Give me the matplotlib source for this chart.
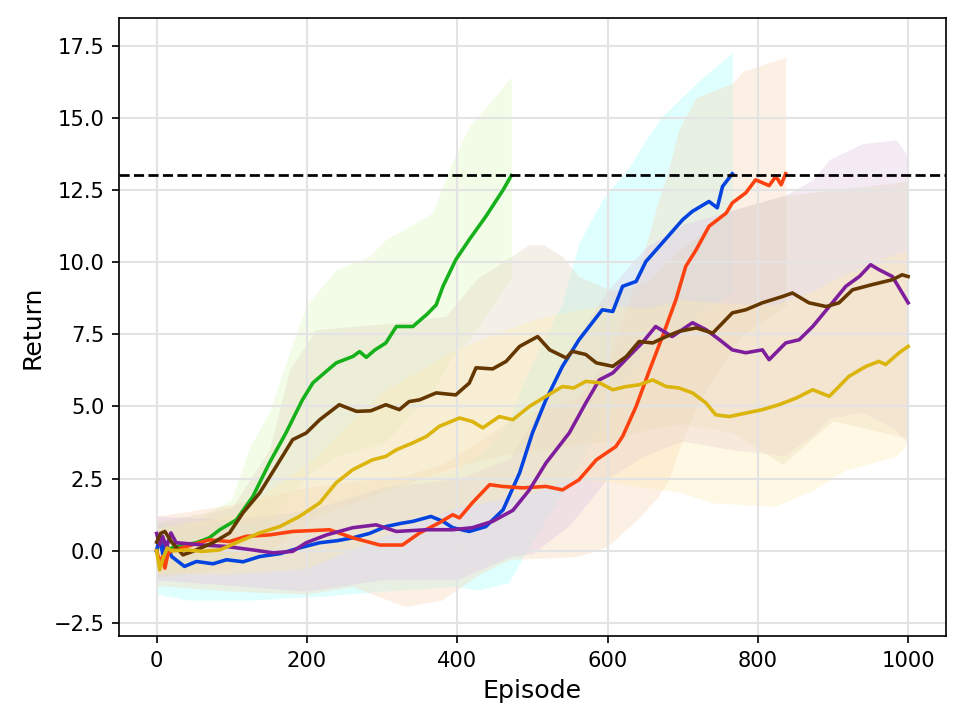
import numpy as np
import matplotlib
matplotlib.use("Agg")
import matplotlib.pyplot as plt

# mean return curves
green_ep = [0, 5, 10, 20, 35, 53, 70, 84, 106, 128, 150, 172, 194, 208, 225, 239, 261, 270, 279, 290,
            305, 319, 341, 360, 372, 381, 398, 416, 438, 461, 472]
green_val = [0.0, 0.4, -0.2, 0.1, 0.2, 0.28, 0.45, 0.73, 1.07, 1.88, 3.04, 4.08, 5.23, 5.82, 6.2, 6.51,
             6.73, 6.9, 6.7, 6.95, 7.2, 7.77, 7.77, 8.2, 8.52, 9.16, 10.08, 10.78, 11.58, 12.5, 13.0]

blue_ep = [0, 4, 8, 12, 20, 30, 37, 53, 75, 93, 115, 137, 164, 190, 217, 240, 261, 283, 305, 325, 341,
           365, 381, 394, 416, 438, 461, 483, 500, 518, 540, 562, 593, 607, 620, 638, 651, 673, 700,
           713, 735, 746, 753, 766]
blue_val = [0.0, 0.5, -0.1, 0.3, -0.2, -0.4, -0.54, -0.37, -0.45, -0.31, -0.38, -0.2, -0.1, 0.1, 0.28,
            0.35, 0.45, 0.6, 0.84, 0.95, 1.02, 1.19, 1.02, 0.8, 0.67, 0.84, 1.42, 2.7, 4.08, 5.23, 6.39,
            7.31, 8.35, 8.29, 9.16, 9.33, 10.02, 10.67, 11.47, 11.76, 12.1, 11.88, 12.62, 13.06]

red_ep = [0, 4, 8, 11, 15, 20, 40, 70, 97, 119, 150, 181, 230, 261, 297, 327, 350, 376, 394, 403, 420,
          443, 460, 487, 518, 540, 562, 585, 611, 620, 638, 656, 673, 691, 704, 718, 735, 758, 766, 784,
          797, 815, 824, 831, 837]
red_val = [0.0, -0.4, -0.2, -0.6, -0.1, 0.0, 0.15, 0.38, 0.32, 0.5, 0.55, 0.67, 0.73, 0.45, 0.2, 0.2,
           0.62, 0.97, 1.25, 1.14, 1.66, 2.29, 2.23, 2.18, 2.23, 2.11, 2.46, 3.15, 3.61, 3.96, 5.0, 6.27,
           7.42, 8.7, 9.85, 10.43, 11.24, 11.7, 12.05, 12.4, 12.85, 12.65, 12.97, 12.68, 13.06]

purple_ep = [0, 4, 8, 13, 19, 26, 40, 61, 93, 128, 155, 181, 199, 226, 261, 292, 319, 359, 394, 420,
             447, 474, 496, 518, 549, 571, 589, 607, 633, 646, 664, 686, 713, 731, 749, 766, 784, 806,
             815, 837, 855, 873, 895, 917, 935, 950, 961, 979, 1000]
purple_val = [0.6, 0.2, 0.5, 0.1, 0.62, 0.28, 0.25, 0.2, 0.15, 0.03, -0.07, -0.02, 0.28, 0.55, 0.8,
              0.9, 0.67, 0.73, 0.73, 0.8, 1.02, 1.4, 2.11, 3.04, 4.08, 5.12, 5.92, 6.16, 6.86, 7.2,
              7.77, 7.42, 7.9, 7.66, 7.31, 6.96, 6.86, 6.96, 6.62, 7.2, 7.31, 7.77, 8.46, 9.16, 9.5,
              9.91, 9.74, 9.5, 8.59]

brown_ep = [0, 5, 11, 20, 35, 48, 75, 97, 115, 137, 159, 181, 199, 217, 243, 266, 285, 305, 323, 336,
            350, 372, 398, 416, 425, 447, 465, 483, 507, 523, 545, 553, 571, 585, 607, 625, 642, 660,
            678, 695, 718, 740, 766, 784, 806, 833, 846, 868, 891, 908, 926, 952, 979, 992, 1000]
brown_val = [0.3, 0.6, 0.67, 0.3, -0.14, -0.02, 0.28, 0.62, 1.32, 2.0, 2.92, 3.85, 4.08, 4.54, 5.06,
             4.83, 4.85, 5.06, 4.89, 5.17, 5.23, 5.47, 5.4, 5.81, 6.34, 6.3, 6.56, 7.08, 7.42, 6.96,
             6.68, 6.91, 6.8, 6.51, 6.39, 6.73, 7.25, 7.2, 7.42, 7.6, 7.72, 7.54, 8.24, 8.35, 8.59,
             8.81, 8.93, 8.59, 8.46, 8.59, 9.04, 9.22, 9.39, 9.56, 9.5]

yellow_ep = [0, 4, 8, 14, 20, 40, 61, 84, 106, 137, 164, 190, 217, 239, 261, 287, 305, 319, 341, 359,
             376, 403, 420, 434, 456, 474, 496, 518, 540, 555, 571, 589, 607, 625, 642, 660, 678, 695,
             713, 731, 744, 762, 784, 806, 828, 851, 873, 895, 908, 921, 944, 961, 970, 988, 1000]
yellow_val = [0.0, -0.66, -0.3, 0.1, 0.0, 0.03, -0.02, 0.03, 0.28, 0.62, 0.84, 1.19, 1.66, 2.36, 2.81,
              3.15, 3.27, 3.5, 3.74, 3.96, 4.31, 4.6, 4.48, 4.26, 4.65, 4.54, 5.0, 5.35, 5.69, 5.64,
              5.87, 5.82, 5.58, 5.69, 5.75, 5.92, 5.69, 5.64, 5.47, 5.12, 4.71, 4.65, 4.77, 4.89, 5.06,
              5.29, 5.58, 5.35, 5.69, 6.04, 6.39, 6.56, 6.45, 6.86, 7.08]

# shaded spread around each curve
green_band_ep = [0, 50, 100, 124, 150, 164, 199, 239, 283, 305, 367, 394, 416, 472]
green_hi = [0.8, 1.0, 1.8, 3.6, 4.8, 5.9, 8.5, 9.74, 10.2, 10.78, 11.7, 13.5, 14.7, 16.4]
green_lo = [-0.8, -0.7, -0.3, 0.3, 0.9, 1.5, 2.6, 3.3, 3.6, 3.8, 5.5, 6.8, 7.3, 9.5]

blue_band_ep = [0, 40, 128, 217, 300, 394, 430, 469, 483, 500, 540, 562, 593, 629, 651, 673, 718, 766]
blue_hi = [1.0, 0.9, 1.0, 1.5, 2.2, 2.8, 3.3, 4.5, 5.5, 6.5, 8.6, 10.67, 12.16, 13.3, 14.24, 15.05,
           16.2, 17.25]
blue_lo = [-1.5, -1.7, -1.7, -1.58, -1.4, -1.24, -1.35, -1.1, -0.42, 0.3, 2.0, 3.0, 4.3, 6.0, 6.8,
           7.3, 8.0, 9.0]

red_band_ep = [0, 100, 200, 261, 330, 380, 430, 470, 520, 560, 600, 640, 665, 680, 695, 718, 766,
               780, 837]
red_hi = [1.2, 1.6, 2.2, 2.4, 2.6, 3.0, 3.8, 4.5, 5.0, 5.3, 6.6, 9.5, 11.9, 13.1, 14.6, 15.7, 16.2,
          16.6, 17.1]
red_lo = [-1.2, -1.4, -1.5, -1.24, -1.93, -1.7, -0.8, -0.3, -0.25, -0.2, 0.15, 1.1, 1.8, 2.4, 3.5,
          5.0, 7.0, 7.5, 8.5]

purple_band_ep = [0, 100, 200, 300, 400, 470, 500, 550, 600, 650, 700, 766, 835, 873, 895, 939, 984,
                  1000]
purple_hi = [1.2, 1.1, 1.4, 2.2, 2.5, 3.2, 4.5, 7.0, 9.0, 10.5, 11.3, 11.8, 12.3, 12.85, 13.55, 14.1,
             14.24, 13.66]
purple_lo = [-1.0, -1.2, -1.4, -1.0, -1.0, -0.2, -0.1, 0.9, 2.5, 3.3, 3.8, 3.5, 3.3, 4.0, 4.6, 4.8,
             4.2, 3.7]

brown_band_ep = [0, 100, 150, 177, 212, 319, 385, 425, 478, 495, 515, 540, 562, 607, 651, 700, 766,
                 833, 900, 1000]
brown_hi = [1.0, 1.5, 3.5, 6.27, 7.66, 7.9, 8.12, 9.39, 10.3, 10.6, 10.6, 10.2, 9.5, 9.0, 9.3, 10.5,
            11.8, 12.3, 12.5, 12.8]
brown_lo = [-0.9, -0.6, 0.0, 0.5, 1.2, 2.2, 2.8, 3.1, 3.4, 3.45, 3.5, 3.6, 3.7, 3.8, 4.2, 4.4, 4.1,
            3.0, 4.5, 3.9]

yellow_band_ep = [0, 100, 200, 300, 400, 500, 550, 600, 650, 700, 740, 822, 873, 917, 984, 1000]
yellow_hi = [0.8, 1.2, 3.0, 5.5, 7.0, 8.0, 8.3, 8.5, 8.4, 8.7, 8.6, 8.5, 9.0, 9.6, 10.3, 10.4]
yellow_lo = [-0.8, -0.8, -0.6, 0.5, 1.5, 2.0, 2.5, 2.4, 2.2, 2.0, 1.66, 1.54, 2.1, 2.8, 3.27, 3.74]

target = 13.0

series = [
    (green_ep, green_val, green_band_ep, green_lo, green_hi, "#15b01a", "#daf9bd"),
    (blue_ep, blue_val, blue_band_ep, blue_lo, blue_hi, "#0343df", "#a6ffff"),
    (red_ep, red_val, red_band_ep, red_lo, red_hi, "#fe420f", "#f9d4b2"),
    (purple_ep, purple_val, purple_band_ep, purple_lo, purple_hi, "#7e1e9c", "#ddc3e2"),
    (brown_ep, brown_val, brown_band_ep, brown_lo, brown_hi, "#653700", "#e2d4bd"),
    (yellow_ep, yellow_val, yellow_band_ep, yellow_lo, yellow_hi, "#dbb40c", "#ffebb2"),
]

fig, ax = plt.subplots(figsize=(6.4, 4.8), dpi=151.25)
fig.subplots_adjust(left=0.123, right=0.977, top=0.975, bottom=0.124)

for ep, val, bep, lo, hi, col, bcol in series:
    ax.fill_between(bep, lo, hi, color=bcol, alpha=0.35, linewidth=0)
for ep, val, bep, lo, hi, col, bcol in series:
    ax.plot(ep, val, color=col, linewidth=1.7)

ax.axhline(target, color="black", linestyle="--", linewidth=1.3)

ax.grid(True, color="#e3e3e3", linewidth=1.0)
ax.set_xlim(-50, 1050)
ax.set_ylim(-2.95, 18.45)
ax.set_yticks(np.arange(-2.5, 17.6, 2.5))
ax.set_xticks(np.arange(0, 1001, 200))
ax.set_xlabel("Episode", fontsize=12)
ax.set_ylabel("Return", fontsize=12)

fig.savefig("out.png", dpi=151.25)
